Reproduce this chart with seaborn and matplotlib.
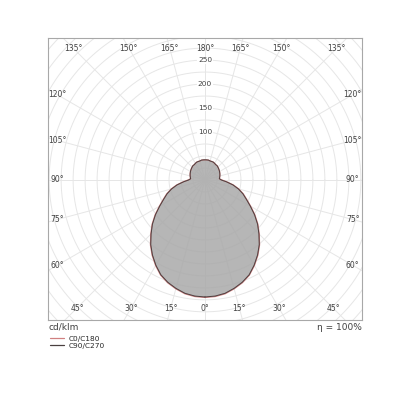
import numpy as np
import pandas as pd
import seaborn as sns
import matplotlib.pyplot as plt
from matplotlib.lines import Line2D

# photometric data, cd/klm against gamma angle (0 = straight down)
gamma = [0, 5, 10, 15, 20, 25, 30, 35, 40, 45, 50, 55, 60, 65, 70, 75, 80, 85, 90,
         95, 100, 105, 110, 115, 120, 125, 130, 135, 140, 145, 150, 155, 160, 165, 170, 175, 180]
c0_c180 = [245, 244, 241, 235, 228, 219, 206, 192, 177, 160, 144, 127, 110, 96, 85, 73, 60, 46, 35,
           30, 31, 32, 33, 34, 35, 36, 37, 38, 39, 39, 40, 41, 41, 41, 42, 42, 42]
c90_c270 = [244, 243, 240, 234, 227, 218, 205, 191, 176, 159, 143, 126, 109, 95, 84, 72, 59, 45, 34,
            30, 31, 32, 33, 34, 35, 36, 37, 38, 39, 39, 40, 41, 41, 41, 42, 42, 42]

ring_labels = [100, 150, 200, 250]
angle_ticks = np.arange(0, 181, 15)

sns.set_style("white")

def to_xy(g, vals):
    g = np.radians(np.array(g))
    v = np.array(vals, dtype=float)
    # right half then mirrored left half
    x = np.concatenate([v * np.sin(g), -(v * np.sin(g))[::-1]])
    y = np.concatenate([-v * np.cos(g), (-v * np.cos(g))[::-1]])
    return pd.DataFrame({"x": x, "y": y})

fig = plt.figure(figsize=(4, 4), dpi=100)
ax = fig.add_axes([0.12, 0.2, 0.785, 0.705])
ax.set_xlim(-327, 327)
ax.set_ylim(-292, 296)
ax.set_aspect("equal")

# grid
t = np.linspace(0, 2 * np.pi, 400)
for r in range(25, 476, 25):
    ax.plot(r * np.cos(t), r * np.sin(t), color="#e6e6e6", lw=0.7, zorder=1)
for a in np.arange(0, 360, 15):
    ar = np.radians(a)
    ax.plot([0, 500 * np.sin(ar)], [0, -500 * np.cos(ar)], color="#e6e6e6", lw=0.7, zorder=1)

# curves
d0 = to_xy(gamma, c0_c180)
d90 = to_xy(gamma, c90_c270)
ax.fill(d90["x"], d90["y"], color="#a9a9a9", alpha=0.85, lw=0, zorder=2)
sns.lineplot(data=d0, x="x", y="y", sort=False, estimator=None, color="#d08080", lw=0.9, ax=ax, zorder=3)
sns.lineplot(data=d90, x="x", y="y", sort=False, estimator=None, color="#4a4040", lw=0.7, ax=ax, zorder=4)

# ring labels
for r in ring_labels:
    ax.text(0, r, str(r), ha="center", va="center", fontsize=5.3, color="#404040", zorder=5,
            bbox=dict(facecolor="white", edgecolor="none", pad=0.3))

# angle labels on an inset rectangle
xb, yt, yb = 308, 275, -267
for a in angle_ticks:
    for s in ([1] if a in (0, 180) else [1, -1]):
        ar = np.radians(a)
        dx, dy = s * np.sin(ar), -np.cos(ar)
        ts = []
        if abs(dx) > 1e-9:
            ts.append(xb / abs(dx))
        if dy > 1e-9:
            ts.append(yt / dy)
        if dy < -1e-9:
            ts.append(yb / dy)
        tt = min(ts)
        ax.text(dx * tt, dy * tt, f"{a}°", ha="center", va="center", fontsize=5.5,
                color="#404040", zorder=5)

ax.set_xticks([])
ax.set_yticks([])
ax.set_xlabel("")
ax.set_ylabel("")
for sp in ax.spines.values():
    sp.set_color("#a8a8a8")
    sp.set_linewidth(0.8)

ax.text(0, -0.01, "cd/klm", transform=ax.transAxes, ha="left", va="top", fontsize=6.5, color="#404040")
ax.text(1, -0.01, "η = 100%", transform=ax.transAxes, ha="right", va="top", fontsize=6.5, color="#404040")

handles = [Line2D([], [], color="#d08080", lw=0.9), Line2D([], [], color="#4a4040", lw=0.9)]
ax.legend(handles, ["C0/C180", "C90/C270"], loc="upper left", bbox_to_anchor=(0.005, -0.055),
          frameon=False, fontsize=5.3, handlelength=1.9, handletextpad=0.7, labelspacing=0.15,
          borderaxespad=0, borderpad=0)

fig.savefig("out.png", dpi=100)
plt.close()
